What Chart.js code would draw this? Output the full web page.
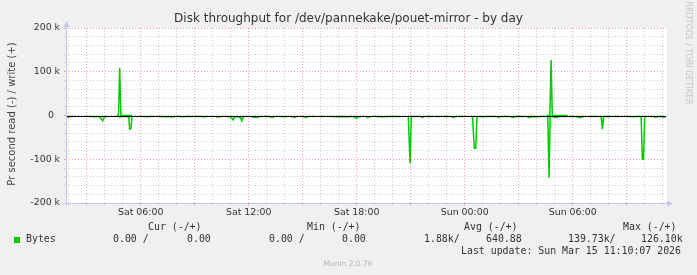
<!DOCTYPE html>
<html><head><meta charset="utf-8">
<script src="https://cdn.jsdelivr.net/npm/chart.js@4.4.1/dist/chart.umd.min.js"></script>
<style>html,body{margin:0;padding:0;background:#f0f0f0;}canvas{display:block}</style>
</head><body>
<canvas id="c" width="697" height="275"></canvas>
<script>
// ---- texts ----
const titleText = "Disk throughput for /dev/pannekake/pouet-mirror - by day";
const yAxisTitle = "Pr second read (-) / write (+)";
const watermark = "RRDTOOL / TOBI OETIKER";
const footerText = "Munin 2.0.76";
// ---- axes (x in minutes since Sat 00:00, y in k bytes/s) ----
const timeRange = [111, 2111];
const xTickMinutes = [360, 720, 1080, 1440, 1800];
const xTickTexts = ["Sat 06:00", "Sat 12:00", "Sat 18:00", "Sun 00:00", "Sun 06:00"];
const yTickValues = [200, 100, 0, -100, -200];
const yTickTexts = ["200 k", "100 k", "0  ", "-100 k", "-200 k"];
// ---- series: read (plotted negative) and write (positive), [minute, k] ----
const readSegments = [
 [[111,2.5],[118,3.5],[126,2.5],[136,2]],
 [[183,2],[195,2.5],[208,3],[218,2.5],[226,4.5],[230,9],[233,12],[237,6],[241,3],[248,2.5]],
 [[280,2.5],[286,2.5],[290,3],[300,2.5],[310,2.5],[317,3],[320,3.5],[323,31],[327,30],[331,2.5]],
 [[366,2.5],[380,3],[392,2.5],[402,2.5]],
 [[422,2.5],[440,3],[455,2.5],[465,3.5],[474,2.5]],
 [[485,2.5],[500,3],[515,2.5],[535,2.5]],
 [[541,2.5],[560,2.5],[573,3],[580,2.5]],
 [[611,3],[620,3.5],[630,2.5]],
 [[646,2.5],[658,3],[664,7],[668,10],[672,4],[683,2.5],[693,5],[697,12],[701,3.5],[707,2.5]],
 [[729,3.5],[740,4],[750,4],[758,2.5],[767,2.5]],
 [[774,2.5],[788,2.5],[798,4.5],[804,3],[807,2.5]],
 [[824,2.5],[838,3],[850,2.5]],
 [[862,2.5],[873,4.5],[879,2.5]],
 [[900,2.5],[912,4.5],[918,2.5],[923,2.5]],
 [[929,2.5],[940,2.5]],
 [[960,2.5],[970,2.5]],
 [[990,2.5],[1010,3],[1030,2.5],[1050,3],[1062,2.5]],
 [[1067,2.5],[1074,4.5],[1079,7],[1084,3.5],[1095,2.5]],
 [[1110,2.5],[1117,4.5],[1127,2.5]],
 [[1144,2.5],[1170,3],[1200,2.5],[1227,2.5]],
 [[1252,2.5],[1258,109],[1262,2.5],[1275,2.5],[1288,2.5]],
 [[1293,2.5],[1299,4.5],[1304,2.5]],
 [[1316,2.5],[1332,2.5]],
 [[1343,2.5],[1360,2.5]],
 [[1370,2.5],[1386,2.5]],
 [[1396,2.5],[1401,4.5],[1409,2.5],[1415,2.5]],
 [[1420,2.5],[1436,2.5]],
 [[1460,2.5],[1466,2.5],[1472,75],[1477,75],[1481,2.5]],
 [[1486,2.5],[1500,3],[1520,2.5],[1543,2.5]],
 [[1548,2.5],[1553,4.5],[1559,2.5]],
 [[1565,2.5],[1587,2.5]],
 [[1592,2.5],[1599,4.5],[1610,2.5],[1625,2.5],[1638,2.5]],
 [[1648,2.5],[1655,5],[1661,2.5],[1680,3],[1695,2.5],[1706,2.5]],
 [[1713,2.5],[1717,2.5],[1721,142],[1725,2.5],[1732,2.5],[1745,4.5],[1755,2.5],[1770,2.5],[1782,2.5]],
 [[1789,2.5],[1808,2.5],[1826,5],[1832,3],[1838,2.5]],
 [[1855,2.5],[1882,2.5]],
 [[1891,2.5],[1895,2.5],[1899,31],[1903,2.5],[1915,2.5],[1927,2.5]],
 [[1938,2.5],[1955,2.5]],
 [[1981,2.5],[2000,3],[2020,2.5],[2028,2.5],[2032,100],[2036,100],[2040,2.5],[2047,2.5]],
 [[2060,2.5],[2071,2.5],[2077,4.5],[2083,2.5],[2093,2.5],[2100,3.5],[2111,3]]
];
const writeSegments = [
 [[280,0],[286,0],[290,108.5],[294,0],[331,0]],
 [[1713,0],[1724,0],[1728,127],[1732,0],[1782,0]]
];
// ---- legend ----
const seriesName = "Bytes";
const legendHeaders = ["Cur (-/+)", "Min (-/+)", "Avg (-/+)", "Max (-/+)"];
const legendValues = ["0.00 /", "0.00", "0.00 /", "0.00", "1.88k/", "640.88", "139.73k/", "126.10k"];
const lastUpdate = "Last update: Sun Mar 15 11:10:07 2026";

const GREEN = '#00cc00';
function build(segs, sign) {
  const out = [];
  segs.forEach(seg => {
    seg.forEach(([m, v]) => out.push({x: m, y: sign * v}));
    out.push({x: seg[seg.length - 1][0] + 0.5, y: null});
  });
  return out;
}
const MINOR = '#cdcdcd', MAJOR = '#e9a4a4', AXIS = '#c4c4f4';
const decor = {
  id: 'decor',
  beforeDraw(chart) {
    const {ctx, chartArea: a} = chart;
    ctx.save();
    ctx.fillStyle = '#f0f0f0'; ctx.fillRect(0, 0, chart.width, chart.height);
    ctx.fillStyle = '#ffffff'; ctx.fillRect(a.left, a.top, a.right - a.left + 1, a.bottom - a.top + 1);
    ctx.restore();
  },
  afterDatasetsDraw(chart) {
    const {ctx, chartArea: a} = chart;
    const y0 = Math.round(chart.scales.y.getPixelForValue(0)) + 0.5;
    ctx.save();
    ctx.strokeStyle = '#000'; ctx.lineWidth = 1;
    ctx.beginPath(); ctx.moveTo(a.left, y0); ctx.lineTo(a.right, y0); ctx.stroke();
    // axes
    ctx.strokeStyle = AXIS; ctx.fillStyle = AXIS;
    const lx = Math.round(a.left) + 0.5, by = Math.round(a.bottom) + 0.5;
    ctx.beginPath(); ctx.moveTo(lx, a.bottom + 3); ctx.lineTo(lx, a.top - 4); ctx.stroke();
    ctx.beginPath(); ctx.moveTo(a.left - 3, by); ctx.lineTo(a.right + 4, by); ctx.stroke();
    ctx.beginPath(); ctx.moveTo(lx, a.top - 7); ctx.lineTo(lx - 3, a.top - 1); ctx.lineTo(lx + 3, a.top - 1); ctx.closePath(); ctx.fill();
    ctx.beginPath(); ctx.moveTo(a.right + 7, by); ctx.lineTo(a.right + 1, by - 3); ctx.lineTo(a.right + 1, by + 3); ctx.closePath(); ctx.fill();
    ctx.restore();
  },
  afterDraw(chart) {
    const ctx = chart.ctx;
    ctx.save();
    ctx.fillStyle = '#333';
    ctx.font = '12px "DejaVu Sans"'; ctx.textAlign = 'center'; ctx.textBaseline = 'alphabetic';
    ctx.fillText(titleText, 348.5, 22);
    ctx.save();
    ctx.translate(12, 114); ctx.rotate(-Math.PI / 2);
    ctx.font = '10px "DejaVu Sans"'; ctx.textBaseline = 'middle'; ctx.fillStyle = '#444';
    ctx.fillText(yAxisTitle, 0, 0);
    ctx.restore();
    ctx.save();
    ctx.translate(688, 53); ctx.rotate(Math.PI / 2);
    ctx.font = '8px "DejaVu Sans"'; ctx.textBaseline = 'middle'; ctx.fillStyle = '#c4c4c4';
    ctx.fillText(watermark, 0, 0);
    ctx.restore();
    // legend
    ctx.font = '9.9px "DejaVu Sans Mono"'; ctx.textAlign = 'left'; ctx.textBaseline = 'middle'; ctx.fillStyle = '#333';
    const hx = [148, 307, 464, 623];
    legendHeaders.forEach((t, i) => ctx.fillText(t, hx[i], 227.5));
    ctx.fillStyle = GREEN; ctx.fillRect(14, 237, 6, 6);
    ctx.fillStyle = '#333';
    ctx.fillText(seriesName, 26, 239.5);
    const vx = [113, 187, 269, 342, 424, 486, 568, 641];
    legendValues.forEach((t, i) => ctx.fillText(t, vx[i], 239.5));
    ctx.fillText(lastUpdate, 461, 251.5);
    ctx.font = '7.5px "DejaVu Sans"'; ctx.textAlign = 'center'; ctx.fillStyle = '#b4b4b4';
    ctx.fillText(footerText, 348, 264.5);
    ctx.restore();
  }
};

new Chart(document.getElementById('c'), {
  type: 'line',
  data: {
    datasets: [
      {label: 'read', data: build(readSegments, -1), borderColor: GREEN, borderWidth: 1.5, pointRadius: 0, tension: 0, spanGaps: false, fill: false},
      {label: 'write', data: build(writeSegments, 1), borderColor: GREEN, borderWidth: 1.5, pointRadius: 0, tension: 0, spanGaps: false, fill: false}
    ]
  },
  options: {
    responsive: false, animation: false, devicePixelRatio: 1,
    layout: {padding: {top: 28, left: 0, right: 31, bottom: 0}},
    plugins: {legend: {display: false}, tooltip: {enabled: false}, title: {display: false}},
    scales: {
      x: {
        type: 'linear', min: timeRange[0], max: timeRange[1],
        afterBuildTicks(s) {
          const t = [];
          for (let m = Math.ceil(timeRange[0] / 60) * 60; m <= timeRange[1]; m += 60) t.push({value: m});
          s.ticks = t;
        },
        afterFit(s) { s.height = 72; },
        ticks: {
          autoSkip: false, maxRotation: 0, padding: 2, color: '#333',
          font: {family: 'DejaVu Sans', size: 9.4},
          callback(v) { const i = xTickMinutes.indexOf(Math.round(v)); return i >= 0 ? xTickTexts[i] : ''; }
        },
        grid: {
          color: c => (c.tick && Math.round(c.tick.value) % 180 === 0) ? MAJOR : MINOR,
          lineWidth: 1, drawTicks: true, tickLength: 2
        },
        border: {display: false, dash: [1, 2]}
      },
      y: {
        type: 'linear', min: -200, max: 200,
        afterBuildTicks(s) {
          const t = [];
          for (let v = -200; v <= 200; v += 20) t.push({value: v});
          s.ticks = t;
        },
        afterFit(s) { s.width = 66; },
        ticks: {
          autoSkip: false, padding: 4, color: '#333',
          font: {family: 'DejaVu Sans', size: 9.4},
          callback(v) { const i = yTickValues.indexOf(Math.round(v)); return i >= 0 ? yTickTexts[i] : ''; }
        },
        grid: {
          color: c => (c.tick && Math.round(c.tick.value) % 100 === 0) ? MAJOR : MINOR,
          lineWidth: 1, drawTicks: true, tickLength: 2
        },
        border: {display: false, dash: [1, 2]}
      }
    }
  },
  plugins: [decor]
});
</script>
</body></html>
